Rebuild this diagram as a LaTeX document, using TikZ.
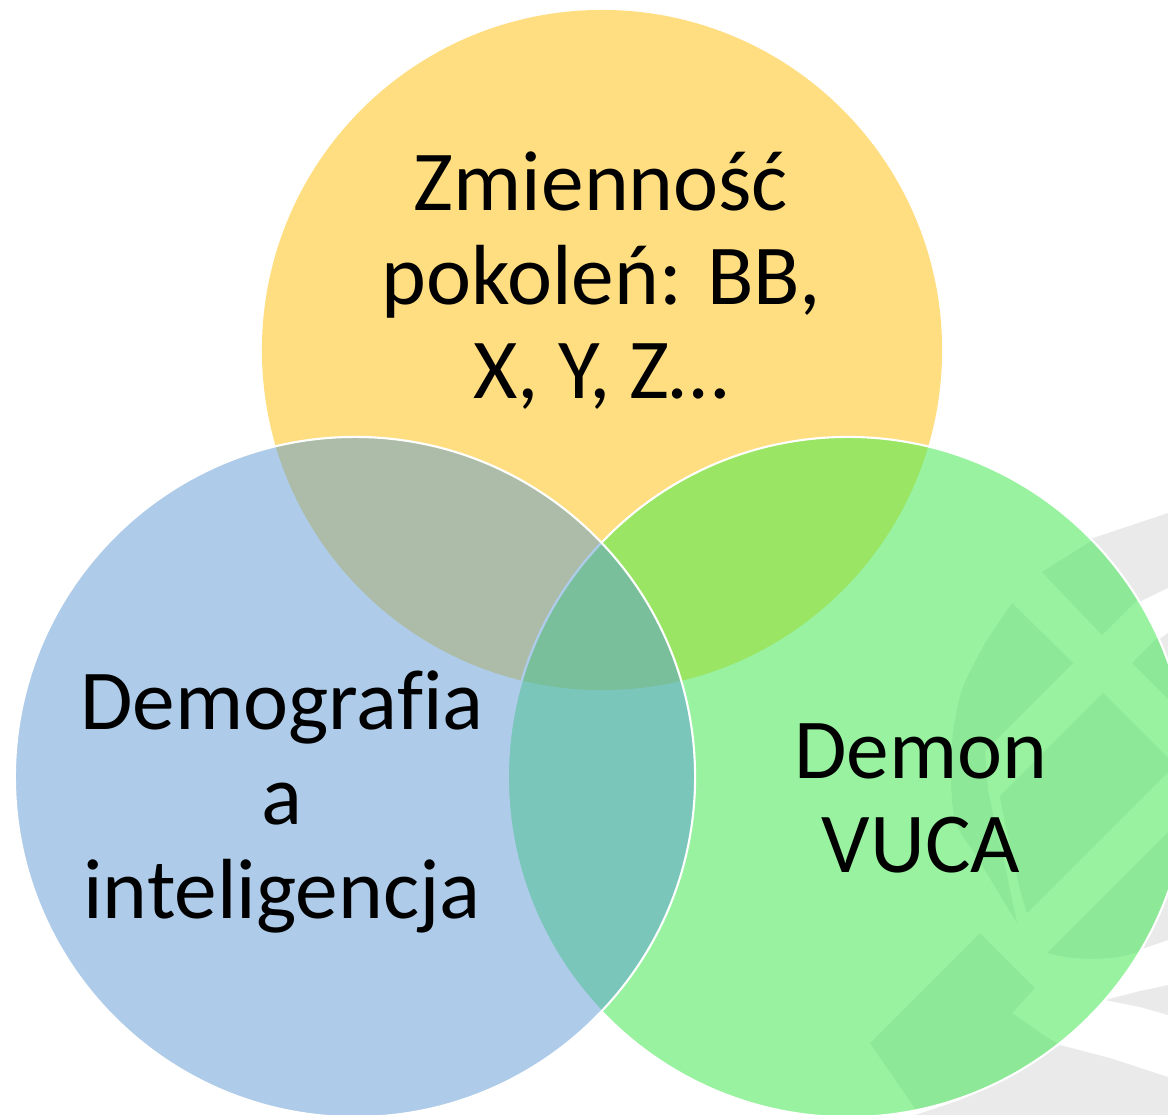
\documentclass[tikz,border=0pt]{standalone}
\usepackage{fontspec}
\setmainfont[Ligatures=CommonOff]{Carlito}
\definecolor{zolty}{HTML}{FFDE81}
\definecolor{niebieski}{HTML}{AECCE9}
\definecolor{zielony}{HTML}{98F29F}
\definecolor{zolnieb}{HTML}{ADBCA8}
\definecolor{zolziel}{HTML}{9AE564}
\definecolor{niebziel}{HTML}{7AC6BA}
\definecolor{srodek}{HTML}{7ABF9B}
\definecolor{znakszary}{HTML}{EAEAEA}
\definecolor{znakziel}{HTML}{8DE897}

\tikzset{
	vtext/.style={align=center,font=\fontsize{60.7}{66.9}\selectfont},
	rim/.style={draw=white,line width=1.5pt}
}

\begin{document}
\begin{tikzpicture}[x=0.025cm,y=-0.025cm]
		\useasboundingbox (0,0) rectangle (1168,1114);
		\coordinate (cz) at (602,350);
		\coordinate (cd) at (355,777);
		\coordinate (cv) at (848,777);

		\fill[znakszary] (1050,560) -- (1093,538) -- (1168,513) -- (1200,506) -- (1200,582) -- (1168,588) -- (1143,600) -- (1100,630) -- cycle;
		\fill[znakszary] (1100,680) -- (1168,633) -- (1200,626) -- (1200,936) -- (1168,940) -- (1145,948) -- (1050,960) -- cycle;
		\fill[znakszary] (1105,1000) -- (1140,991) -- (1168,985) -- (1200,981) -- (1200,1021) -- (1168,1015) -- (1140,1007) -- cycle;
		\fill[znakszary] (900,1120) -- (960,1100) -- (1060,1045) -- (1110,1058) -- (1168,1077) -- (1200,1087) -- (1200,1120) -- cycle;

		\fill[zolty] (cz) circle (8.5cm);
		\fill[zielony] (cv) circle (8.5cm);

		\begin{scope}
			\clip (cv) circle (8.5cm);
			\fill[znakziel] (1042,572) -- (1093,540) -- (1150,515) -- (1175,562) -- (1102,635) -- cycle;
			\fill[znakziel] (1132,663) -- (1180,615) -- (1230,640) -- (1230,761) -- cycle;
			\fill[znakziel] (1012,603) -- (1073,663) -- (985,751) -- plot[smooth] coordinates {(988,790) (995,823) (1003,857) (1010,890) (1017,923)} -- plot[smooth] coordinates {(997,890) (977,857) (956,823) (951,780) (953,733) (963,687) (987,640)} -- cycle;
			\fill[znakziel] (1103,693) -- (1175,765) -- (1027,913) -- plot[smooth] coordinates {(1020,890) (1013,857) (1005,823) (1000,796)} -- cycle;
			\fill[znakziel] (1047,953) -- (1200,800) -- (1230,850) -- (1200,960) -- (1143,950) .. controls (1120,960) and (1080,962) .. (1047,953) -- cycle;
			\fill[znakziel] (870,1043) -- (980,933) -- (1035,988) -- (1012,1013) .. controls (1030,1025) and (1045,1037) .. (1060,1045) -- (1060,1130) -- (930,1130) -- cycle;
		\end{scope}

		\begin{scope}
			\clip (cz) circle (8.5cm);
			\fill[zolziel] (cv) circle (8.5cm);
		\end{scope}
		\draw[rim] (cv) circle (8.5cm);

		\fill[niebieski] (cd) circle (8.5cm);
		\begin{scope}
			\clip (cd) circle (8.5cm);
			\fill[zolnieb] (cz) circle (8.5cm);
			\fill[niebziel] (cv) circle (8.5cm);
			\draw[niebieski,line width=1.5pt] (cv) circle (8.5cm);
			\clip (cz) circle (8.5cm);
			\fill[srodek] (cv) circle (8.5cm);
			\draw[niebieski,line width=1.5pt] (cv) circle (8.5cm);
		\end{scope}
		\draw[rim] (cd) circle (8.5cm);

		\node[vtext] (tz) at (601,281) {Zmienność\\pokoleń: BB,\\X, Y, Z…};
		\node[vtext] (td) at (282,802) {Demografia\\a\\inteligencja};
		\node[vtext] (tv) at (921,798) {Demon\\VUCA};
\end{tikzpicture}
\end{document}
